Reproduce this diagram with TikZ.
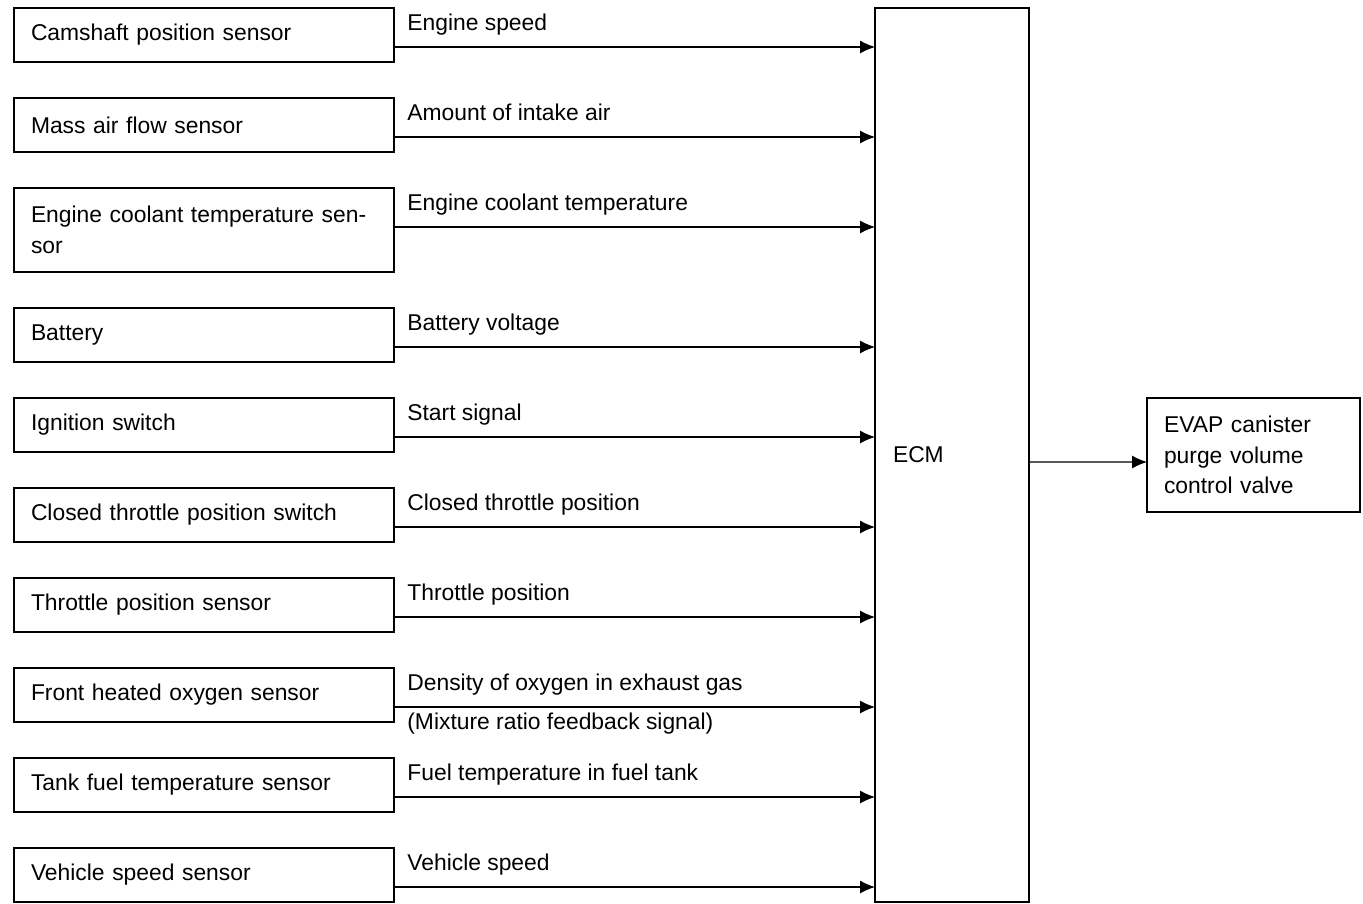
\documentclass[tikz,border=0pt]{standalone}
\usepackage{fontspec}
\setmainfont{Liberation Sans}
\usetikzlibrary{arrows.meta,positioning}

\begin{document}
\begin{tikzpicture}[
node distance=0.72cm,
font=\fontsize{13}{17.5}\selectfont,
box/.style={draw, line width=0.8pt, outer sep=0pt, minimum width=7.6cm, minimum height=1.08cm, text width=6.92cm, inner xsep=0.34cm, align=left},
unit/.style={draw, line width=0.8pt, outer sep=0pt, inner xsep=0.36cm, align=left},
sig/.style={->, line width=0.6pt},
lbl/.style={pos=0, anchor=base west, xshift=0.14cm, yshift=0.34cm},
>={Latex[length=0.3cm, width=0.26cm]}
]
\useasboundingbox (0,0) rectangle (27.26,-18.06);

\node[box, anchor=north west] (cam) at (0.28,-0.16) {Camshaft position sensor};
\node[box, below=of cam] (maf) {Mass air flow sensor};
\node[box, below=of maf, minimum height=1.68cm] (ect) {Engine coolant temperature sen-\\sor};
\node[box, below=of ect] (bat) {Battery};
\node[box, below=of bat] (ign) {Ignition switch};
\node[box, below=of ign] (ctp) {Closed throttle position switch};
\node[box, below=of ctp] (tps) {Throttle position sensor};
\node[box, below=of tps] (ho2s) {Front heated oxygen sensor};
\node[box, below=of ho2s] (tft) {Tank fuel temperature sensor};
\node[box, below=of tft] (vss) {Vehicle speed sensor};

\node[unit, anchor=north west, minimum width=3.08cm, minimum height=17.88cm, text width=2.36cm] (ecm) at (17.5,-0.16) {ECM};
\node[unit, anchor=west, minimum width=4.26cm, minimum height=2.28cm, text width=3.58cm, inner xsep=0.34cm] (evap) at (22.94,-9.1) {EVAP canister\\purge volume\\control valve};

\draw[sig] (cam.north east) ++(0,-0.78) coordinate (c1) -- node[lbl]{Engine speed} (c1 -| ecm.west);
\draw[sig] (maf.north east) ++(0,-0.78) coordinate (c2) -- node[lbl]{Amount of intake air} (c2 -| ecm.west);
\draw[sig] (ect.north east) ++(0,-0.78) coordinate (c3) -- node[lbl]{Engine coolant temperature} (c3 -| ecm.west);
\draw[sig] (bat.north east) ++(0,-0.78) coordinate (c4) -- node[lbl]{Battery voltage} (c4 -| ecm.west);
\draw[sig] (ign.north east) ++(0,-0.78) coordinate (c5) -- node[lbl]{Start signal} (c5 -| ecm.west);
\draw[sig] (ctp.north east) ++(0,-0.78) coordinate (c6) -- node[lbl]{Closed throttle position} (c6 -| ecm.west);
\draw[sig] (tps.north east) ++(0,-0.78) coordinate (c7) -- node[lbl]{Throttle position} (c7 -| ecm.west);
\draw[sig] (ho2s.north east) ++(0,-0.78) coordinate (c8) -- node[lbl]{Density of oxygen in exhaust gas}
  node[lbl, yshift=-0.78cm]{(Mixture ratio feedback signal)} (c8 -| ecm.west);
\draw[sig] (tft.north east) ++(0,-0.78) coordinate (c9) -- node[lbl]{Fuel temperature in fuel tank} (c9 -| ecm.west);
\draw[sig] (vss.north east) ++(0,-0.78) coordinate (c10) -- node[lbl]{Vehicle speed} (c10 -| ecm.west);

\draw[sig] ([yshift=-0.14cm]ecm.east) -- ([yshift=-0.14cm]evap.west);
\end{tikzpicture}
\end{document}
